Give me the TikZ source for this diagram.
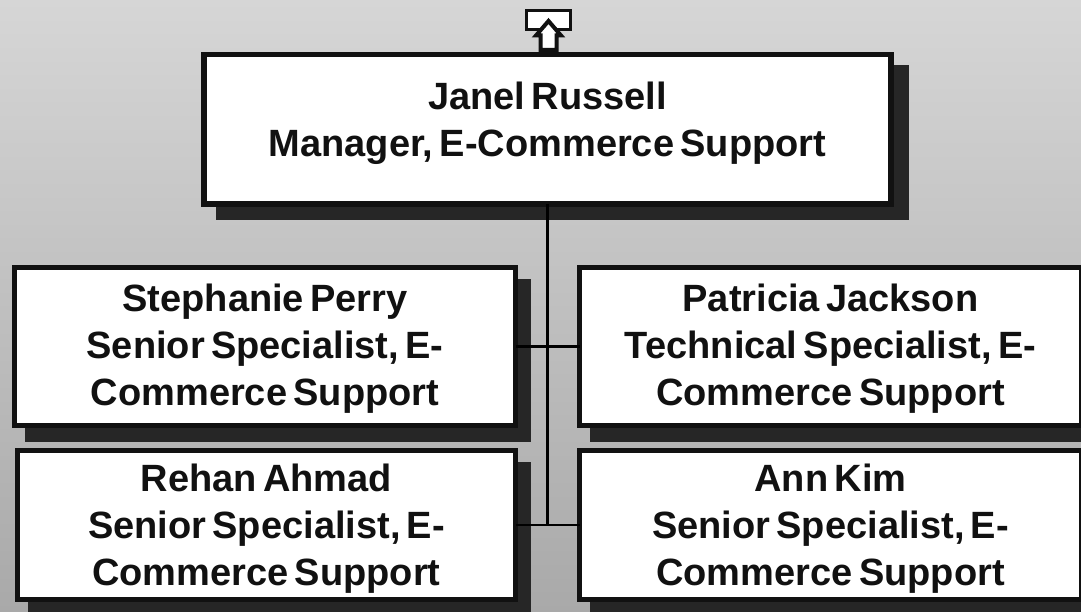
\documentclass[tikz,border=0pt]{standalone}
\usepackage{fontspec}
\setmainfont{Liberation Sans}[WordSpace=0.6]
\usetikzlibrary{shadows}
\definecolor{d6d6d6}{HTML}{d6d6d6}
\definecolor{a9a9a9}{HTML}{a9a9a9}
\definecolor{111111}{HTML}{111111}
\definecolor{262626}{HTML}{262626}
\newcommand{\droptext}[1]{\rule{0pt}{#1}}
\newcommand{\lifttext}[1]{\rule[-#1]{0pt}{0pt}}
\tikzset{
    staffbox/.style 2 args={draw=111111,fill=white,line width=5.5pt,outer sep=0,inner sep=0,align=center,
        font=\bfseries\fontsize{38pt}{47pt}\selectfont,text=111111,
        general shadow={shadow xshift=#1,shadow yshift=#2,fill=262626,draw=262626,line width=5.5pt}},
    leadline/.style={draw=black,line width=2.6pt},
}

\begin{document}
\begin{tikzpicture}[x=1pt,y=-1pt]
    \useasboundingbox(0,0)rectangle(1081,612);
    \shade[top color=d6d6d6,bottom color=a9a9a9](0,0)rectangle(1081,612);
    \clip(0,0)rectangle(1081,612);
    \node[staffbox={15pt}{-13pt},minimum width=687pt,minimum height=149.5pt](janel)at(547.5,129.25){Janel Russell\\Manager, E-Commerce Support\lifttext{20pt}};
    \node[staffbox={13pt}{-14pt},minimum width=501pt,minimum height=158pt](stephanie)at(265,346.5){\droptext{32pt}Stephanie Perry\\Senior Specialist, E-\\Commerce Support};
    \node[staffbox={13pt}{-14pt},minimum width=498pt,minimum height=149pt](rehan)at(266.5,525){\droptext{34pt}Rehan Ahmad\\Senior Specialist, E-\\Commerce Support};
    \node[staffbox={13pt}{-14pt},minimum width=502pt,minimum height=158pt](patricia)at(830.5,346.5){\droptext{32pt}Patricia Jackson\\Technical Specialist, E-\\Commerce Support};
    \node[staffbox={13pt}{-14pt},minimum width=502pt,minimum height=149pt](ann)at(830.5,525){\droptext{34pt}Ann Kim\\Senior Specialist, E-\\Commerce Support};
    \draw[leadline](janel.south)--(janel.south|-rehan.east);
    \draw[leadline](stephanie.east)--(patricia.west);
    \draw[leadline](rehan.east)--(ann.west);
    \node[draw=111111,fill=white,line width=3.5pt,outer sep=0,inner sep=0,minimum width=44pt,minimum height=19pt](upbox)at(548.5,20){};
    \draw[draw=111111,fill=white,line width=4pt,line join=miter](548.5,21)--(561,35.5)--(556.5,35.5)--(556.5,50)--(540.5,50)--(540.5,35.5)--(536,35.5)--cycle;
\end{tikzpicture}
\end{document}
